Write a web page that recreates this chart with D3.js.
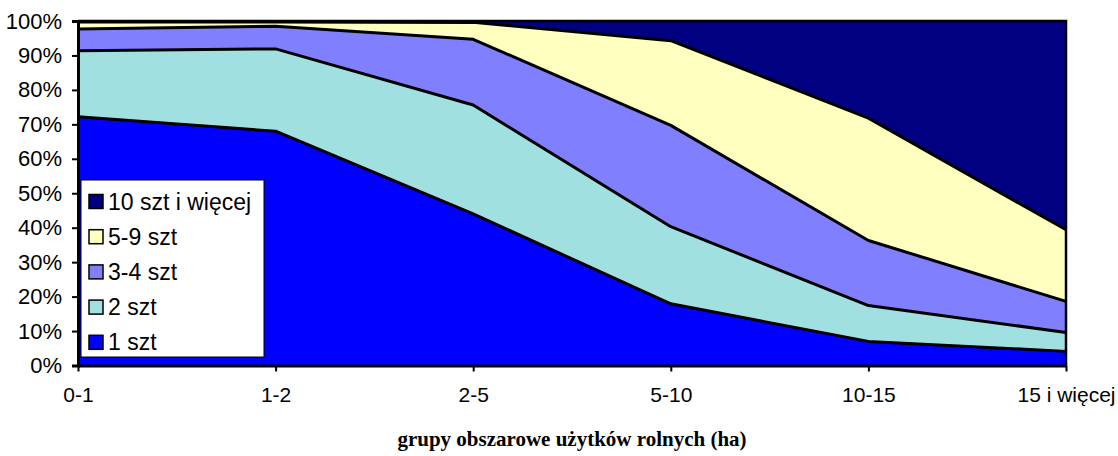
<!DOCTYPE html>
<html>
<head>
<meta charset="utf-8">
<script src="https://cdn.jsdelivr.net/npm/d3@7"></script>
<style>
  body { margin: 0; background: #fff; }
  text { font-family: "Liberation Sans", Arial, sans-serif; }
</style>
</head>
<body>
<div id="chart"></div>
<script>
// categories (x axis) and series shares in %
var categories = ["0-1", "1-2", "2-5", "5-10", "10-15", "15 i więcej"];
var seriesNames = ["1 szt", "2 szt", "3-4 szt", "5-9 szt", "10 szt i więcej"];
var szt1 = [72.2, 68.0, 44.0, 17.9, 7.0, 4.1];
var szt2 = [19.2, 23.9, 31.6, 22.4, 10.4, 5.5];
var szt34 = [6.3, 6.6, 19.1, 29.4, 18.9, 9.0];
var szt59 = [2.0, 1.2, 4.9, 24.6, 35.5, 20.8];
var szt10 = [0.3, 0.3, 0.4, 5.7, 28.2, 60.6];
var colors = ["#0000ff", "#a0e0e0", "#8080ff", "#ffffc0", "#000080"];
var yTicks = [0, 10, 20, 30, 40, 50, 60, 70, 80, 90, 100];

var margin = {top: 21, right: 52, bottom: 90.5, left: 78},
    fullW = 1118, fullH = 456,
    width = fullW - margin.left - margin.right,
    height = fullH - margin.top - margin.bottom;

var svg = d3.select("#chart")
  .append("svg")
    .attr("width", fullW)
    .attr("height", fullH)
  .append("g")
    .attr("transform", "translate(" + margin.left + "," + margin.top + ")");

// build table for d3.stack
var allSeries = [szt1, szt2, szt34, szt59, szt10];
var table = categories.map(function(c, i) {
    var row = {cat: c};
    seriesNames.forEach(function(s, j) { row[s] = allSeries[j][i]; });
    return row;
});
var stacked = d3.stack().keys(seriesNames)(table);

var x = d3.scalePoint()
    .domain(categories)
    .range([0, width]);

var y = d3.scaleLinear()
    .domain([0, 100])
    .range([height, 0]);

var area = d3.area()
    .x(function(d) { return x(d.data.cat); })
    .y0(function(d) { return y(d[0]); })
    .y1(function(d) { return y(d[1]); });

var topLine = d3.line()
    .x(function(d) { return x(d.data.cat); })
    .y(function(d) { return y(d[1]); });

svg.selectAll(".area")
    .data(stacked)
  .enter().append("path")
    .attr("class", "area")
    .attr("d", area)
    .style("fill", function(d, i) { return colors[i]; });

svg.selectAll(".edge")
    .data(stacked.slice(0, 4))
  .enter().append("path")
    .attr("class", "edge")
    .attr("d", topLine)
    .style("fill", "none")
    .style("stroke", "#000")
    .style("stroke-width", 3)
    .style("stroke-linejoin", "round");

// plot frame: top and right
svg.append("path")
    .attr("d", "M0,0H" + width + "V" + height)
    .style("fill", "none")
    .style("stroke", "#000")
    .style("stroke-width", 2.5);

// y axis
var yAxis = svg.append("g")
    .call(d3.axisLeft(y).tickValues(yTicks).tickSize(6).tickPadding(10)
        .tickFormat(function(d) { return d + "%"; }));
yAxis.select(".domain").style("stroke-width", 3);
yAxis.selectAll(".tick line").style("stroke-width", 2);
yAxis.selectAll("text")
    .style("font-size", "22px")
    .style("fill", "#000");

// x axis
var xAxis = svg.append("g")
    .attr("transform", "translate(0," + height + ")")
    .call(d3.axisBottom(x).tickSize(6).tickSizeOuter(0).tickPadding(16));
xAxis.select(".domain").style("stroke-width", 3);
xAxis.selectAll(".tick line").style("stroke-width", 2);
xAxis.selectAll("text")
    .style("font-size", "21px")
    .style("fill", "#000");

// axis title
svg.append("text")
    .attr("x", width / 2)
    .attr("y", height + 80)
    .attr("text-anchor", "middle")
    .style("font-family", "'Liberation Serif', 'Times New Roman', serif")
    .style("font-weight", "bold")
    .style("font-size", "21px")
    .text("grupy obszarowe użytków rolnych (ha)");

// legend
var legend = svg.append("g")
    .attr("transform", "translate(3,159)");
legend.append("rect")
    .attr("width", 183)
    .attr("height", 177)
    .style("fill", "#fff")
    .style("stroke", "#000")
    .style("stroke-width", 1);

var legendOrder = seriesNames.slice().reverse();
var item = legend.selectAll(".item")
    .data(legendOrder)
  .enter().append("g")
    .attr("class", "item")
    .attr("transform", function(d, i) { return "translate(0," + (21.5 + i * 35.2) + ")"; });

item.append("rect")
    .attr("x", 8)
    .attr("y", -7)
    .attr("width", 14)
    .attr("height", 14)
    .style("fill", function(d) { return colors[seriesNames.indexOf(d)]; })
    .style("stroke", "#000")
    .style("stroke-width", 1.5);

item.append("text")
    .attr("x", 27)
    .attr("y", 0)
    .attr("dy", "0.35em")
    .style("font-size", "23px")
    .text(function(d) { return d; });
</script>
</body>
</html>
